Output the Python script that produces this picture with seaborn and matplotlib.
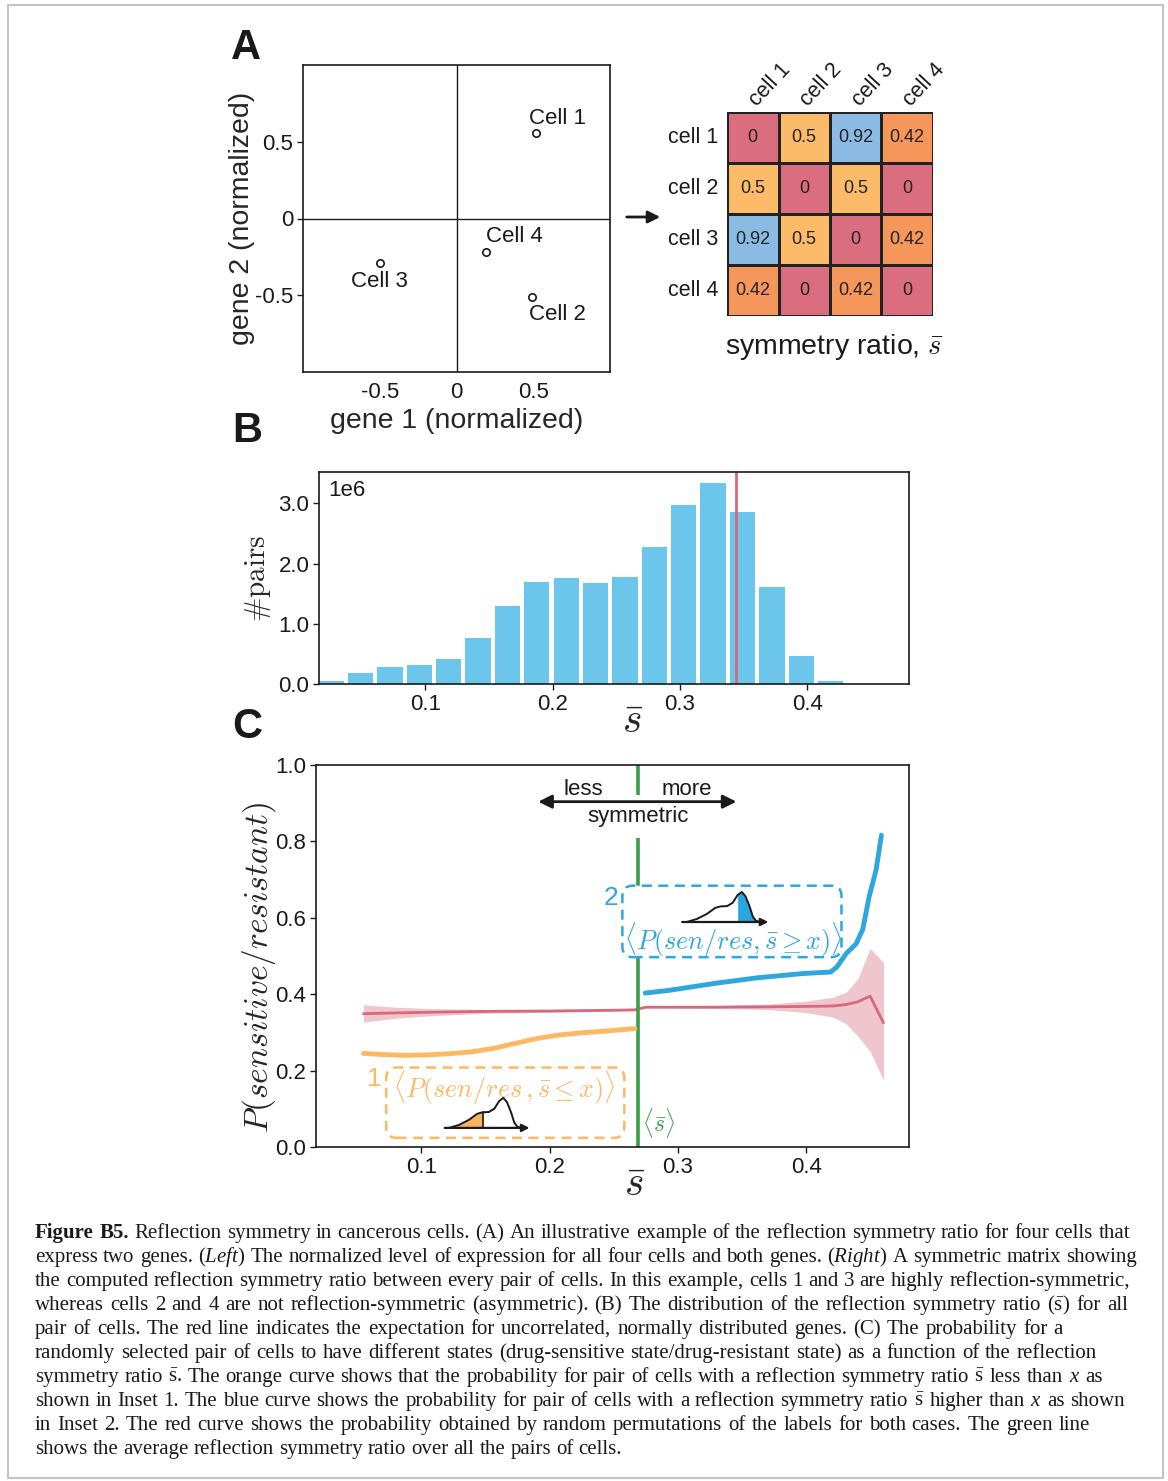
import numpy as np
import pandas as pd
import matplotlib
matplotlib.use("Agg")
import matplotlib.pyplot as plt
from matplotlib.colors import ListedColormap, BoundaryNorm
from matplotlib.patches import FancyBboxPatch, Rectangle
import seaborn as sns

sns.set_theme(style="ticks")
plt.rcParams['font.family'] = ['Liberation Sans', 'DejaVu Sans']
plt.rcParams['mathtext.fontset'] = 'custom'
plt.rcParams['mathtext.rm'] = 'Liberation Serif'
plt.rcParams['mathtext.it'] = 'Liberation Serif:italic'
plt.rcParams['mathtext.bf'] = 'Liberation Serif:bold'
plt.rcParams['axes.edgecolor'] = '#1a1a1a'
plt.rcParams['xtick.color'] = '#1a1a1a'
plt.rcParams['ytick.color'] = '#1a1a1a'
plt.rcParams['text.color'] = '#1a1a1a'

# ---- data -------------------------------------------------------------
# panel A, left: expression of two genes in four cells
cell_names = ["Cell 1", "Cell 2", "Cell 3", "Cell 4"]
gene1 = [0.52, 0.49, -0.50, 0.19]
gene2 = [0.56, -0.51, -0.29, -0.22]

# panel A, right: symmetry ratio matrix
matrix_labels = ["cell 1", "cell 2", "cell 3", "cell 4"]
sym_ratio = [[0.0, 0.5, 0.92, 0.42],
             [0.5, 0.0, 0.5, 0.0],
             [0.92, 0.5, 0.0, 0.42],
             [0.42, 0.0, 0.42, 0.0]]

# panel B: histogram of s-bar over all pairs (counts in millions)
bin_centers = [0.026, 0.049, 0.072, 0.095, 0.118, 0.141, 0.164, 0.187, 0.211,
               0.234, 0.257, 0.280, 0.303, 0.326, 0.349, 0.372, 0.395, 0.418]
pair_counts_m = [0.05, 0.18, 0.28, 0.32, 0.42, 0.77, 1.30, 1.70, 1.76,
                 1.68, 1.78, 2.28, 2.98, 3.34, 2.85, 1.61, 0.47, 0.05]
gaussian_expect = 0.3437

# panel C: probability curves
mean_sbar = 0.269
orange_x = [0.055, 0.070, 0.087, 0.104, 0.121, 0.139, 0.156, 0.173, 0.190,
            0.207, 0.225, 0.242, 0.2665]
orange_y = [0.245, 0.242, 0.240, 0.241, 0.244, 0.249, 0.258, 0.271, 0.284,
            0.293, 0.299, 0.303, 0.310]
blue_x = [0.2745, 0.293, 0.328, 0.362, 0.397, 0.419, 0.424, 0.431, 0.4388,
          0.444, 0.449, 0.4544, 0.4585]
blue_y = [0.403, 0.410, 0.428, 0.443, 0.454, 0.458, 0.472, 0.506, 0.532,
          0.570, 0.656, 0.726, 0.816]
red_x = [0.055, 0.080, 0.110, 0.150, 0.200, 0.250, 0.266, 0.275, 0.320,
         0.370, 0.400, 0.4206, 0.431, 0.4401, 0.4497, 0.4601]
red_mean = [0.349, 0.351, 0.353, 0.355, 0.356, 0.358, 0.359, 0.366, 0.366,
            0.367, 0.368, 0.369, 0.373, 0.380, 0.395, 0.325]
red_lo = [0.327, 0.337, 0.344, 0.350, 0.353, 0.356, 0.357, 0.364, 0.363,
          0.360, 0.352, 0.340, 0.323, 0.290, 0.250, 0.175]
red_hi = [0.372, 0.366, 0.362, 0.360, 0.359, 0.360, 0.361, 0.368, 0.369,
          0.374, 0.382, 0.392, 0.405, 0.440, 0.520, 0.483]

# little distribution sketch used in both insets
icon_x = [0.08, 0.19, 0.30, 0.39, 0.45, 0.52, 0.58, 0.635, 0.68, 0.72, 0.765, 0.80, 0.835, 0.88]
icon_h = [0.0, 0.10, 0.27, 0.47, 0.52, 0.53, 0.64, 0.90, 1.0, 0.86, 0.52, 0.18, 0.04, 0.0]

caption_lines = [
    "Figure B5. Reflection symmetry in cancerous cells. (A) An illustrative example of the reflection symmetry ratio for four cells that",
    "express two genes. ($\\mathit{Left}$) The normalized level of expression for all four cells and both genes. ($\\mathit{Right}$) A symmetric matrix showing",
    "the computed reflection symmetry ratio between every pair of cells. In this example, cells 1 and 3 are highly reflection-symmetric,",
    "whereas cells 2 and 4 are not reflection-symmetric (asymmetric). (B) The distribution of the reflection symmetry ratio ($\\bar{\\mathrm{s}}$) for all",
    "pair of cells. The red line indicates the expectation for uncorrelated, normally distributed genes. (C) The probability for a",
    "randomly selected pair of cells to have different states (drug-sensitive state/drug-resistant state) as a function of the reflection",
    "symmetry ratio $\\bar{\\mathrm{s}}$. The orange curve shows that the probability for pair of cells with a reflection symmetry ratio $\\bar{\\mathrm{s}}$ less than $\\mathit{x}$ as",
    "shown in Inset 1. The blue curve shows the probability for pair of cells with a reflection symmetry ratio $\\bar{\\mathrm{s}}$ higher than $\\mathit{x}$ as shown",
    "in Inset 2. The red curve shows the probability obtained by random permutations of the labels for both cases. The green line",
    "shows the average reflection symmetry ratio over all the pairs of cells.",
]
caption_right = [1130, 1137, 1130, 1128, 1063, 1097, 1103, 1125, 1090, 622]

# ---- colours ----------------------------------------------------------
PINK, YEL, SKY, ORG = '#db6e7e', '#fbbb68', '#8bbbe3', '#f5965b'
BAR = '#6cc5ea'
BLUE = '#2ea6de'
ORANGE = '#fdb863'
RED = '#d9687a'
BAND = '#efc6cd'
GREEN = '#3a9e48'

W, H = 1168, 1481
fig = plt.figure(figsize=(W / 100, H / 100), dpi=100)


def px_axes(left, top, right, bottom):
    return fig.add_axes([left / W, 1 - bottom / H, (right - left) / W, (bottom - top) / H])


def style_ticks(ax):
    ax.tick_params(direction='out', length=4, width=1, labelsize=16, pad=3)
    for s in ax.spines.values():
        s.set_linewidth(1.2)
        s.set_visible(True)


# ---- panel A left: scatter ------------------------------------------
axA = px_axes(303, 65, 610, 372)
axA.axhline(0, color='#1a1a1a', lw=1)
axA.axvline(0, color='#1a1a1a', lw=1)
sns.scatterplot(x=gene1, y=gene2, ax=axA, marker='o', s=28, color='white',
                edgecolor='#1a1a1a', linewidth=1.2, zorder=3)
label_offsets = {"Cell 1": ((-5, 10), 'left'), "Cell 2": ((-2, -13), 'left'),
                 "Cell 3": ((0, -13), 'center'), "Cell 4": ((0, 11.5), 'left')}
for name, gx, gy in zip(cell_names, gene1, gene2):
    off, ha = label_offsets[name]
    axA.annotate(name, (gx, gy), xytext=off, textcoords='offset points',
                 ha=ha, va='center', fontsize=16)
axA.set_xlim(-1, 1)
axA.set_ylim(-1, 1)
axA.set_xticks([-0.5, 0, 0.5])
axA.set_xticklabels(['-0.5', '0', '0.5'])
axA.set_yticks([-0.5, 0, 0.5])
axA.set_yticklabels(['-0.5', '0', '0.5'])
style_ticks(axA)
axA.tick_params(axis='x', length=0, pad=7)
axA.set_xlabel('gene 1 (normalized)', fontsize=20.5, labelpad=4)
axA.set_ylabel('gene 2 (normalized)', fontsize=20.5, labelpad=0)

# ---- panel A right: heatmap -----------------------------------------
axM = px_axes(727, 112, 933, 316)
sym_df = pd.DataFrame(sym_ratio, index=matrix_labels, columns=matrix_labels)
cmap = ListedColormap([PINK, ORG, YEL, SKY])
norm = BoundaryNorm([-0.01, 0.3, 0.46, 0.7, 1.0], cmap.N)
sns.heatmap(sym_df, ax=axM, cmap=cmap, norm=norm, annot=True, fmt='g',
            annot_kws={'color': '#222222', 'fontsize': 13},
            linewidths=2, linecolor='#222222', cbar=False, square=False)
axM.xaxis.tick_top()
axM.set_xticklabels(matrix_labels, rotation=47, ha='left', va='center',
                    rotation_mode='anchor', fontsize=15.5)
axM.set_yticklabels(matrix_labels, rotation=0, fontsize=15.5)
axM.tick_params(axis='y', length=0, pad=6)
axM.tick_params(axis='x', length=0, pad=6)
for lab in axM.get_xticklabels():
    lab.set_x(lab.get_position()[0] - 0.3)
axM.text(0.52, -0.15, r'symmetry ratio, $\bar{s}$', transform=axM.transAxes,
         ha='center', va='center', fontsize=20.5, math_fontfamily='cm')

# arrow between scatter and matrix
axA.annotate('', xy=(663 / W, 1 - 217 / H), xytext=(624 / W, 1 - 217 / H),
             xycoords='figure fraction', textcoords='figure fraction',
             arrowprops=dict(arrowstyle='-|>', lw=2, color='#1a1a1a', mutation_scale=18))

# ---- panel B: histogram ----------------------------------------------
axB = px_axes(319, 472, 909, 684)
sns.histplot(x=bin_centers, weights=pair_counts_m, bins=18, binrange=(0.0145, 0.4300),
             shrink=0.86, color=BAR, alpha=1, edgecolor='none', ax=axB)
axB.axvline(gaussian_expect, color=RED, lw=2)
axB.set_xlim(0.0165, 0.480)
axB.set_ylim(0, 3.52)
axB.set_xticks([0.1, 0.2, 0.3, 0.4])
axB.set_yticks([0, 1, 2, 3])
axB.set_yticklabels(['0.0', '1.0', '2.0', '3.0'])
style_ticks(axB)
axB.text(0.015, 0.96, '1e6', transform=axB.transAxes, ha='left', va='top', fontsize=16)
axB.set_ylabel(r'$\#\mathrm{pairs}$', fontsize=21, math_fontfamily='cm')
axB.yaxis.set_label_coords((258 - 319) / 590, 0.5)
axB.yaxis.label.set_va('center')
axB.set_xlabel(r'$\bar{s}$', fontsize=30, math_fontfamily='cm')
axB.xaxis.set_label_coords((633 - 319) / 590, -(722 - 684) / 212)
axB.xaxis.label.set_va('center')

# ---- panel C: probabilities -------------------------------------------
axC = px_axes(316, 765, 909, 1147)
axC.fill_between(red_x, red_lo, red_hi, color=BAND, lw=0, zorder=1)
sns.lineplot(x=red_x, y=red_mean, ax=axC, color=RED, lw=2, zorder=2)
sns.lineplot(x=orange_x, y=orange_y, ax=axC, color=ORANGE, lw=3.5, zorder=3)
sns.lineplot(x=blue_x, y=blue_y, ax=axC, color=BLUE, lw=3.5, zorder=3)
axC.axvline(mean_sbar, color=GREEN, lw=2.6, zorder=2.5)
axC.set_xlim(0.018, 0.480)
axC.set_ylim(0, 1.0)
axC.set_xticks([0.1, 0.2, 0.3, 0.4])
axC.set_yticks([0, 0.2, 0.4, 0.6, 0.8, 1.0])
axC.set_yticklabels(['0.0', '0.2', '0.4', '0.6', '0.8', '1.0'])
style_ticks(axC)
axC.set_ylabel(r'$P(sensitive/resistant)$', fontsize=24, math_fontfamily='cm')
axC.yaxis.set_label_coords((259 - 316) / 593, 0.47)
axC.yaxis.label.set_va('center')
axC.set_xlabel(r'$\bar{s}$', fontsize=30, math_fontfamily='cm')
axC.xaxis.set_label_coords((635 - 316) / 593, -(1185 - 1147) / 382)
axC.xaxis.label.set_va('center')

# less / more symmetric arrow
axC.text(mean_sbar, 0.866, 'symmetric', ha='center', va='center', fontsize=16, zorder=6,
         bbox=dict(boxstyle='square,pad=0.5', fc='white', ec='none'))
axC.annotate('', xy=(0.189, 0.904), xytext=(0.3477, 0.904),
             arrowprops=dict(arrowstyle='<|-|>', lw=2, color='#1a1a1a', mutation_scale=20),
             zorder=8)
axC.text(0.226, 0.936, 'less', ha='center', va='center', fontsize=16, zorder=6)
axC.text(0.307, 0.936, 'more', ha='center', va='center', fontsize=16, zorder=6)
axC.text(0.2847, 0.063, r'$\langle\bar{s}\rangle$', color=GREEN, ha='center', va='center',
         fontsize=17, math_fontfamily='cm')

# inset boxes
aspect = (1.0 / 382) / (0.462 / 593)
box2 = FancyBboxPatch((0.2567, 0.497), 0.4274 - 0.2567, 0.684 - 0.497,
                      boxstyle='round,pad=0,rounding_size=0.008', mutation_aspect=aspect,
                      transform=axC.transData, fc='white', ec=BLUE, lw=1.8,
                      ls=(0, (4, 2.6)), zorder=4)
axC.add_patch(box2)
box1 = FancyBboxPatch((0.0727, 0.024), 0.2582 - 0.0727, 0.208 - 0.024,
                      boxstyle='round,pad=0,rounding_size=0.008', mutation_aspect=aspect,
                      transform=axC.transData, fc='none', ec=ORANGE, lw=1.8,
                      ls=(0, (4, 2.6)), zorder=4)
axC.add_patch(box1)
axC.text(0.248, 0.653, '2', color=BLUE, ha='center', va='center', fontsize=19, zorder=6)
axC.text(0.0634, 0.178, '1', color=ORANGE, ha='center', va='center', fontsize=19, zorder=6)
axC.text(0.343, 0.542, r'$\langle P(sen/res,\bar{s}\geq x)\rangle$', color=BLUE,
         ha='center', va='center', fontsize=18.8, math_fontfamily='cm', zorder=6)
axC.text(0.1647, 0.155, r'$\langle P(sen/res\,,\bar{s}\leq x)\rangle$', color=ORANGE,
         ha='center', va='center', fontsize=18.8, math_fontfamily='cm', zorder=6)


def draw_icon(x0, base, width, fill_from, fill_to, fill_color):
    hdat = 30 / 382 * 1.2
    ins = axC.inset_axes([x0, base - 0.1 * 30 / 382, width, hdat], transform=axC.transData,
                         zorder=7)
    ins.set_xlim(0, 1)
    ins.set_ylim(-0.1, 1.1)
    ins.axis('off')
    ix = np.array(icon_x)
    ih = np.array(icon_h)
    mask = (ix >= fill_from) & (ix <= fill_to)
    ins.fill_between(ix[mask], 0, ih[mask], color=fill_color, lw=0)
    ins.plot(icon_x, icon_h, color='#1a1a1a', lw=1.4)
    edge = fill_to if fill_to < 0.9 else fill_from
    ins.plot([edge, edge], [0, np.interp(edge, ix, ih)], color='#1a1a1a', lw=1.2)
    ins.annotate('', xy=(1.0, 0), xytext=(0.0, 0),
                 arrowprops=dict(arrowstyle='-|>', lw=1.6, color='#1a1a1a', mutation_scale=11))


draw_icon(0.3011, 0.589, 0.0715, 0.635, 0.88, '#2aa6df')
draw_icon(0.1161, 0.050, 0.0704, 0.08, 0.45, '#fbb35f')

# ---- panel letters ------------------------------------------------------
for letter, (lx, ly) in {'A': (246, 48), 'B': (247, 431), 'C': (247, 727)}.items():
    fig.text(lx / W, 1 - ly / H, letter, ha='center', va='center', fontsize=30,
             fontweight='bold')

# ---- caption (each line spread to the reference line width) -----------
renderer = fig.canvas.get_renderer()
cap_left = 35
cap_size = 15.0
for i, line in enumerate(caption_lines):
    words = line.split(' ')
    y = 1 - (1232 + 24 * i + 6) / H
    texts = []
    for j, w in enumerate(words):
        bold = (i == 0 and j < 2)
        t = fig.text(0, y, w, ha='left', va='baseline', fontsize=cap_size,
                     family='Liberation Serif', fontweight='bold' if bold else 'normal',
                     color='#1a1a1a')
        texts.append(t)
    widths = [t.get_window_extent(renderer).width for t in texts]
    gap = (caption_right[i] - cap_left - sum(widths)) / (len(words) - 1)
    x = cap_left
    for t, wd in zip(texts, widths):
        t.set_x(x / W)
        x += wd + gap

fig.patches.append(Rectangle((8 / W, 1 - 1478 / H), (1163 - 8) / W, (1478 - 5) / H,
                             transform=fig.transFigure, fill=False, ec='#c4c4c4', lw=1.5))

fig.savefig('out.png', dpi=100)
